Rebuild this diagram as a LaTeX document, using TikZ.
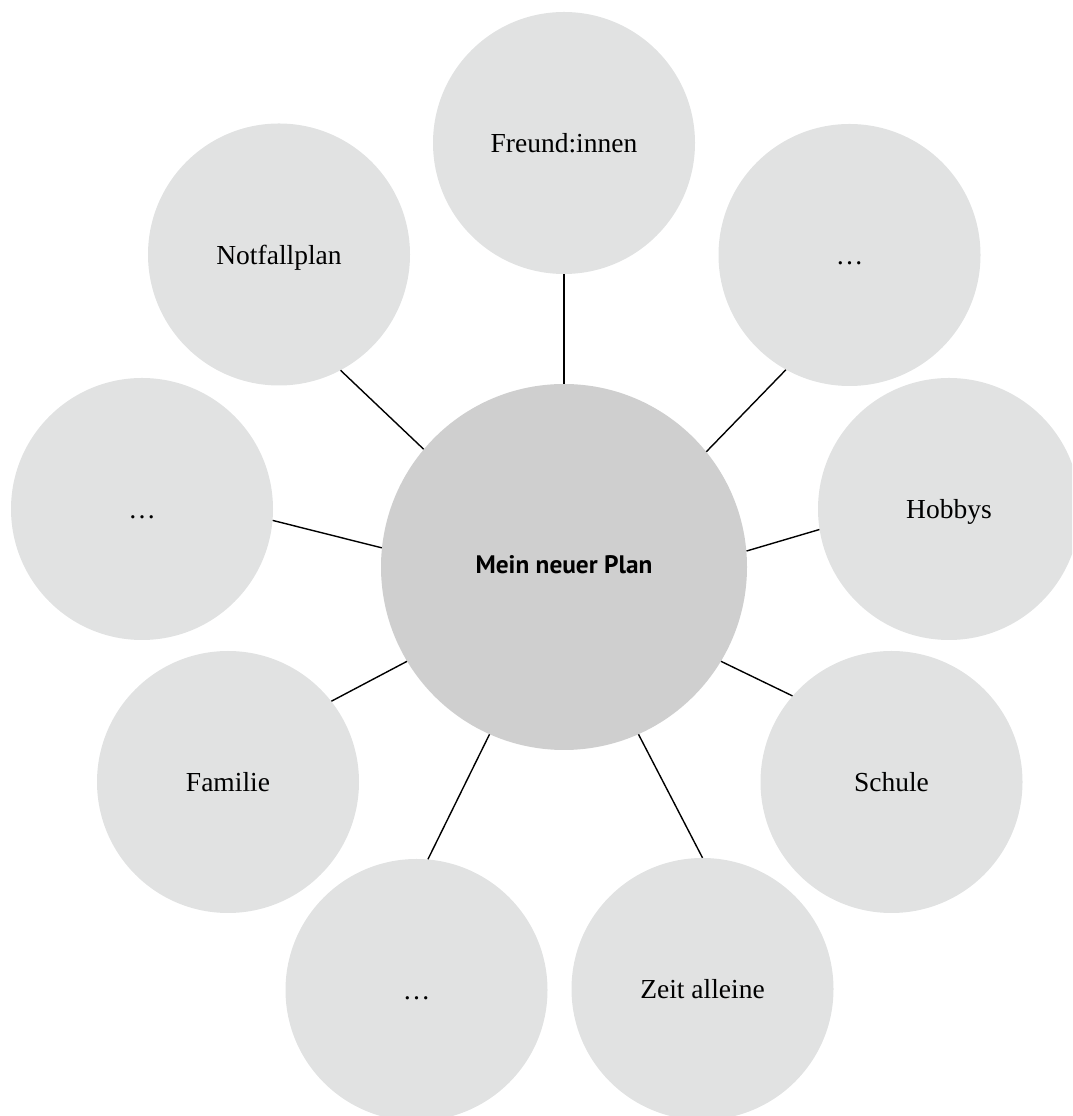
\documentclass[tikz,border=0pt]{standalone}
\usepackage{fontspec}
\setmainfont{Liberation Serif}
\newfontfamily\hubfont[Scale=1]{PT Sans Bold}
\definecolor{petal}{HTML}{E1E2E2}
\definecolor{hubfill}{HTML}{CFCFCF}
\begin{document}
\begin{tikzpicture}[x=1pt,y=1pt,
  hub/.style={circle, fill=hubfill, minimum size=366pt, inner sep=0pt,
    font=\hubfont\fontsize{25.3}{26}\selectfont, text height=12.8pt, text depth=0pt},
  petal/.style={circle, fill=petal, minimum size=262pt, inner sep=0pt,
    font=\fontsize{27.5}{28}\selectfont, text height=20pt, text depth=0pt},
  spoke/.style={draw=black, line width=1.4pt}]
\useasboundingbox (0,0) rectangle (1072,1116);
\clip (0,0) rectangle (1072,1116);

% central topic
\node[hub] (c) at (564,549) {Mein neuer Plan};

% surrounding topics
\node[petal] (f)  at (564,973)   {Freund:innen};
\node[petal] (tr) at (849.5,861) {\ldots};
\node[petal] (h)  at (949,607)   {Hobbys};
\node[petal] (s)  at (891.5,334) {Schule};
\node[petal] (z)  at (702.5,127) {Zeit alleine};
\node[petal] (bl) at (416.5,126) {\ldots};
\node[petal] (fa) at (228,334)   {Familie};
\node[petal] (l)  at (142,607)   {\ldots};
\node[petal] (n)  at (279,861.5) {Notfallplan};

% spokes
\draw[spoke] (c.90)    -- (f.270);
\draw[spoke] (c.39.2)  -- (tr.241.7);
\draw[spoke] (c.5.3)   -- (h.189.7);
\draw[spoke] (c.-31.9) -- (s.139.8);
\draw[spoke] (c.-66.2) -- (z.90);
\draw[spoke] (c.246.2) -- (bl.85.9);
\draw[spoke] (c.211.9) -- (fa.38);
\draw[spoke] (c.174.7) -- (l.-5.7);
\draw[spoke] (c.140.8) -- (n.298.3);
\end{tikzpicture}
\end{document}
